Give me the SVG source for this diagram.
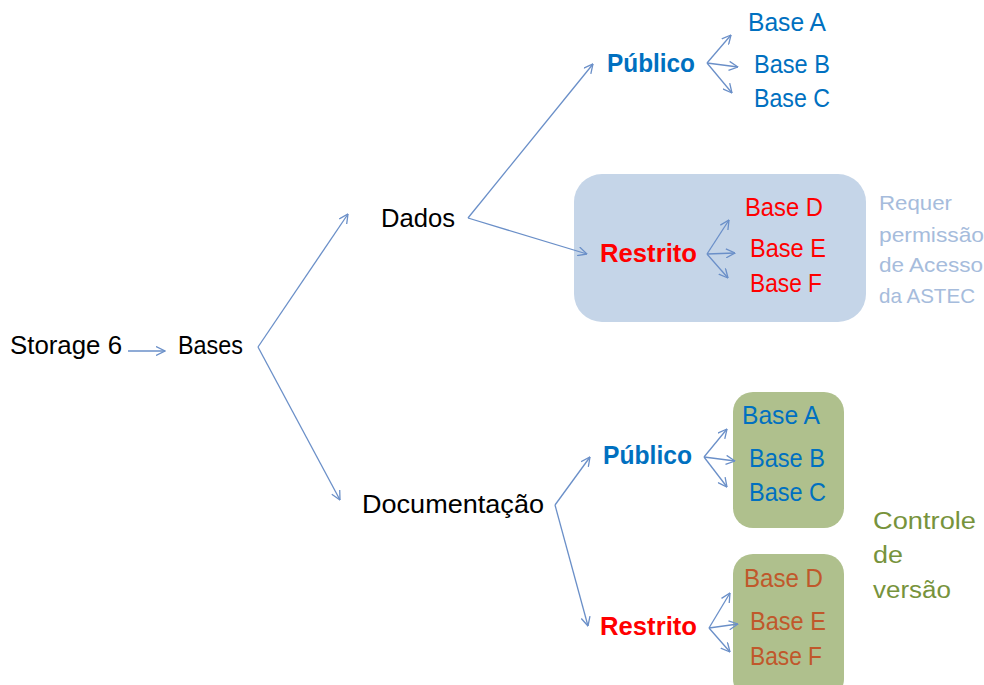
<svg xmlns="http://www.w3.org/2000/svg" width="984" height="685" viewBox="0 0 984 685">
<defs>
<marker id="ah" viewBox="0 0 10 10" refX="9.5" refY="5" markerWidth="10" markerHeight="10" markerUnits="userSpaceOnUse" orient="auto">
<path d="M0.5,0.5 L9.5,5 L0.5,9.5" fill="none" stroke="#6A8FC8" stroke-width="1.3"/>
</marker>
<style>
text{font-family:"Liberation Sans",Arial,sans-serif;font-size:25px}
.k{fill:#000}
.b{fill:#0070C0}
.r{fill:#FF0000}
.o{fill:#C0582B}
.bold{font-weight:bold}
.note{fill:#A6BCDC;font-size:21px}
.gr{fill:#77933C;font-size:23px}
.c line{stroke:#6A8FC8;stroke-width:1.3;marker-end:url(#ah)}
</style>
</defs>
<rect width="984" height="685" fill="#fff"/>
<g id="box-restrito-dados"><rect x="574" y="174" width="292" height="148" rx="28" fill="#C5D5E8"/></g>
<g id="box-publico-doc"><rect x="733" y="392" width="111" height="136" rx="20" fill="#AFC08D"/></g>
<g id="box-restrito-doc"><rect x="733" y="554" width="111" height="145" rx="20" fill="#AFC08D"/></g>
<g class="c" id="connectors">
<line x1="128" y1="351" x2="165" y2="351"/>
<line x1="258" y1="347" x2="348" y2="214"/>
<line x1="258" y1="347" x2="340" y2="500"/>
<line x1="468" y1="218" x2="593" y2="64"/>
<line x1="468" y1="218" x2="587" y2="254"/>
<line x1="707" y1="63" x2="731" y2="35"/>
<line x1="707" y1="63" x2="738" y2="67"/>
<line x1="707" y1="63" x2="732" y2="93"/>
<line x1="707" y1="254" x2="729" y2="220"/>
<line x1="707" y1="254" x2="735" y2="253"/>
<line x1="707" y1="254" x2="728" y2="278"/>
<line x1="555" y1="505" x2="590" y2="457"/>
<line x1="555" y1="505" x2="588" y2="626"/>
<line x1="704" y1="457" x2="727" y2="429"/>
<line x1="704" y1="457" x2="735" y2="461"/>
<line x1="704" y1="457" x2="727" y2="487"/>
<line x1="709" y1="628" x2="730" y2="593"/>
<line x1="709" y1="628" x2="738" y2="624"/>
<line x1="709" y1="628" x2="730" y2="652"/>
</g>
<g id="storage6"><text class="k" x="10" y="354" textLength="112" lengthAdjust="spacingAndGlyphs">Storage 6</text></g>
<g id="bases"><text class="k" x="178" y="354" textLength="65" lengthAdjust="spacingAndGlyphs">Bases</text></g>
<g id="dados"><text class="k" x="381" y="227" textLength="74" lengthAdjust="spacingAndGlyphs">Dados</text></g>
<g id="documentacao"><text class="k" x="362" y="513" textLength="182" lengthAdjust="spacingAndGlyphs">Documentação</text></g>
<g id="publico-dados"><text class="b bold" x="607" y="72" textLength="88" lengthAdjust="spacingAndGlyphs">Público</text></g>
<g id="dados-base-a"><text class="b" x="748" y="31" textLength="78" lengthAdjust="spacingAndGlyphs">Base A</text></g>
<g id="dados-base-b"><text class="b" x="754" y="73" textLength="76" lengthAdjust="spacingAndGlyphs">Base B</text></g>
<g id="dados-base-c"><text class="b" x="754" y="107" textLength="76" lengthAdjust="spacingAndGlyphs">Base C</text></g>
<g id="restrito-dados"><text class="r bold" x="600" y="262" textLength="97" lengthAdjust="spacingAndGlyphs">Restrito</text></g>
<g id="dados-base-d"><text class="r" x="745" y="216" textLength="78" lengthAdjust="spacingAndGlyphs">Base D</text></g>
<g id="dados-base-e"><text class="r" x="750" y="257" textLength="76" lengthAdjust="spacingAndGlyphs">Base E</text></g>
<g id="dados-base-f"><text class="r" x="750" y="292" textLength="72" lengthAdjust="spacingAndGlyphs">Base F</text></g>
<g id="nota-astec">
<text class="note" x="879" y="210" textLength="73" lengthAdjust="spacingAndGlyphs">Requer</text>
<text class="note" x="879" y="242" textLength="105" lengthAdjust="spacingAndGlyphs">permissão</text>
<text class="note" x="879" y="272" textLength="104" lengthAdjust="spacingAndGlyphs">de Acesso</text>
<text class="note" x="879" y="303" textLength="96" lengthAdjust="spacingAndGlyphs">da ASTEC</text>
</g>
<g id="publico-doc"><text class="b bold" x="603" y="464" textLength="89" lengthAdjust="spacingAndGlyphs">Público</text></g>
<g id="doc-base-a"><text class="b" x="742" y="424" textLength="78" lengthAdjust="spacingAndGlyphs">Base A</text></g>
<g id="doc-base-b"><text class="b" x="749" y="467" textLength="76" lengthAdjust="spacingAndGlyphs">Base B</text></g>
<g id="doc-base-c"><text class="b" x="749" y="501" textLength="77" lengthAdjust="spacingAndGlyphs">Base C</text></g>
<g id="nota-versao">
<text class="gr" x="873" y="529" textLength="103" lengthAdjust="spacingAndGlyphs">Controle</text>
<text class="gr" x="873" y="563" textLength="30" lengthAdjust="spacingAndGlyphs">de</text>
<text class="gr" x="873" y="598" textLength="78" lengthAdjust="spacingAndGlyphs">versão</text>
</g>
<g id="restrito-doc"><text class="r bold" x="600" y="635" textLength="97" lengthAdjust="spacingAndGlyphs">Restrito</text></g>
<g id="doc-base-d"><text class="o" x="744" y="587" textLength="79" lengthAdjust="spacingAndGlyphs">Base D</text></g>
<g id="doc-base-e"><text class="o" x="750" y="630" textLength="76" lengthAdjust="spacingAndGlyphs">Base E</text></g>
<g id="doc-base-f"><text class="o" x="750" y="665" textLength="72" lengthAdjust="spacingAndGlyphs">Base F</text></g>
</svg>
